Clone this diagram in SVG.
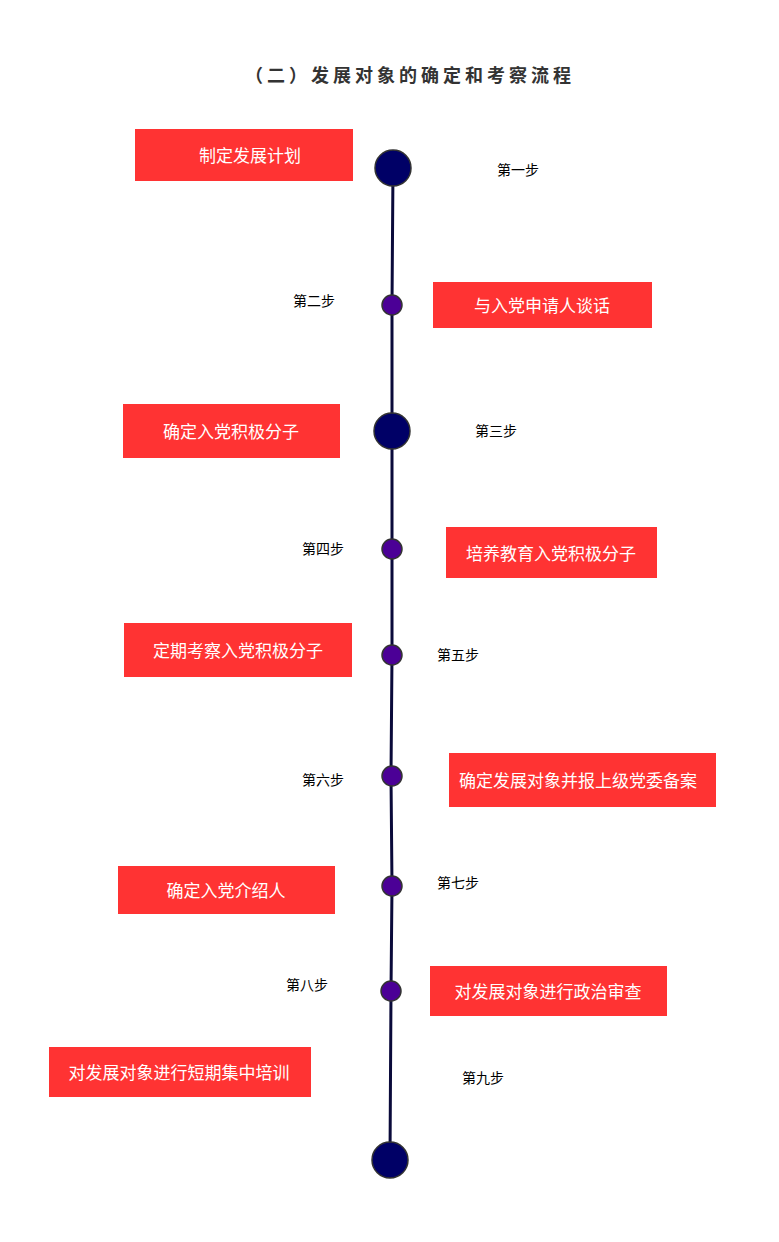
<svg xmlns="http://www.w3.org/2000/svg" width="779" height="1242" viewBox="0 0 779 1242">
<style>
.box{fill:#ff3333}
.bt{font-family:"Noto Sans CJK SC","Noto Sans",sans-serif;font-size:17px;fill:#ffffff;text-anchor:middle;dominant-baseline:central}
.st{font-family:"Noto Sans CJK SC","Noto Sans",sans-serif;font-size:14px;fill:#000000;text-anchor:middle;dominant-baseline:central}
.big{fill:#000066;stroke:#333333;stroke-width:1.5}
.small{fill:#4b0096;stroke:#333333;stroke-width:1.5}
.title{font-family:"Noto Sans CJK SC","Noto Sans",sans-serif;font-size:18px;font-weight:bold;fill:#333333;letter-spacing:4px;text-anchor:middle}
</style>
<rect width="779" height="1242" fill="#ffffff"/>
<text class="title" x="410" y="82">（二）发展对象的确定和考察流程</text>
<g id="connectors">
<polyline points="393,168 392,305 392,431 392,549 392,655 391,776 392,886 391,991 390,1160" fill="none" stroke="#0a0a3a" stroke-width="3"/>
</g>
<g id="step1"><rect class="box" x="135" y="129" width="218" height="52"/><text class="bt" x="250" y="154">制定发展计划</text><circle class="big" cx="393" cy="168" r="18"/><text class="st" x="518" y="169">第一步</text></g>
<g id="step2"><rect class="box" x="433" y="282" width="219" height="46"/><text class="bt" x="542" y="304">与入党申请人谈话</text><circle class="small" cx="392" cy="305" r="10"/><text class="st" x="314" y="300">第二步</text></g>
<g id="step3"><rect class="box" x="123" y="404" width="217" height="54"/><text class="bt" x="231" y="430">确定入党积极分子</text><circle class="big" cx="392" cy="431" r="18"/><text class="st" x="496" y="430">第三步</text></g>
<g id="step4"><rect class="box" x="446" y="527" width="211" height="51"/><text class="bt" x="551" y="552">培养教育入党积极分子</text><circle class="small" cx="392" cy="549" r="10"/><text class="st" x="323" y="548">第四步</text></g>
<g id="step5"><rect class="box" x="124" y="623" width="228" height="54"/><text class="bt" x="238" y="649">定期考察入党积极分子</text><circle class="small" cx="392" cy="655" r="10"/><text class="st" x="458" y="654">第五步</text></g>
<g id="step6"><rect class="box" x="449" y="753" width="267" height="54"/><text class="bt" x="578" y="779">确定发展对象并报上级党委备案</text><circle class="small" cx="392" cy="776" r="10"/><text class="st" x="323" y="779">第六步</text></g>
<g id="step7"><rect class="box" x="118" y="866" width="217" height="48"/><text class="bt" x="226" y="889">确定入党介绍人</text><circle class="small" cx="392" cy="886" r="10"/><text class="st" x="458" y="882">第七步</text></g>
<g id="step8"><rect class="box" x="430" y="966" width="237" height="50"/><text class="bt" x="548" y="990">对发展对象进行政治审查</text><circle class="small" cx="391" cy="991" r="10"/><text class="st" x="307" y="984">第八步</text></g>
<g id="step9"><rect class="box" x="49" y="1047" width="262" height="50"/><text class="bt" x="179" y="1071">对发展对象进行短期集中培训</text><text class="st" x="483" y="1077">第九步</text></g>
<g id="end"><circle class="big" cx="390" cy="1160" r="18"/></g>
</svg>
